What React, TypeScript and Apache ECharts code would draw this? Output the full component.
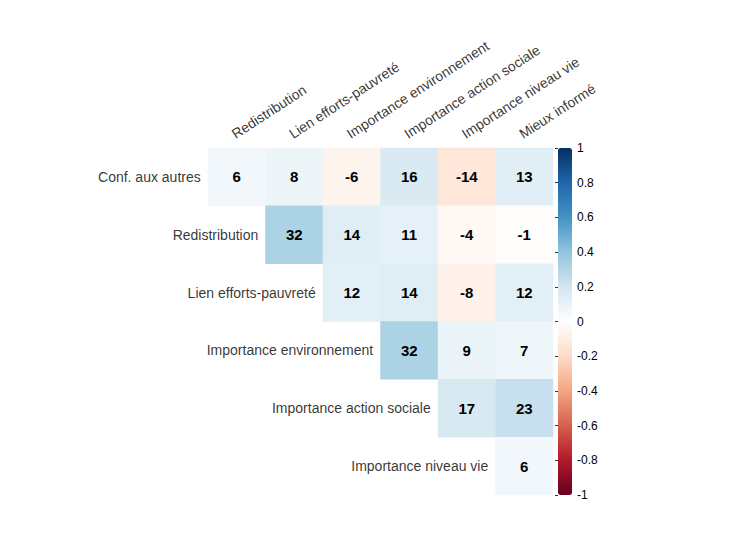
import { useEffect, useRef } from 'react';
import * as echarts from 'echarts';

const rowLabels = ['Conf. aux autres', 'Redistribution', 'Lien efforts-pauvreté', 'Importance environnement', 'Importance action sociale', 'Importance niveau vie'];
const colLabels = ['Redistribution', 'Lien efforts-pauvreté', 'Importance environnement', 'Importance action sociale', 'Importance niveau vie', 'Mieux informé'];
// upper triangle, row i starts at column i (values x100)
const corrRows = [
  [6, 8, -6, 16, -14, 13],
  [32, 14, 11, -4, -1],
  [12, 14, -8, 12],
  [32, 9, 7],
  [17, 23],
  [6],
];
const scaleTicks = [-1, -0.8, -0.6, -0.4, -0.2, 0, 0.2, 0.4, 0.6, 0.8, 1];

const FONT = 'Liberation Sans, Arial, sans-serif';

const App = () => {
  const chartDom = useRef<HTMLDivElement | null>(null);

  useEffect(() => {
    if (!chartDom.current) return;
    const chart = echarts.init(chartDom.current, null, { renderer: 'svg' });

    const cells: number[][] = [];
    corrRows.forEach((row, i) => row.forEach((v, k) => cells.push([i + k, i, v / 100])));

    const option = {
      animation: false,
      textStyle: { fontFamily: FONT },
      grid: [
        { left: 200, top: 140, width: 345, height: 347 },
        { left: 550, top: 140, width: 14, height: 347 },
      ],
      xAxis: [
        { type: 'category', data: colLabels, show: false, gridIndex: 0 },
        { type: 'value', show: false, gridIndex: 1 },
      ],
      yAxis: [
        { type: 'category', data: rowLabels, inverse: true, show: false, gridIndex: 0 },
        {
          type: 'value', gridIndex: 1, position: 'right', min: -1, max: 1, interval: 0.2,
          splitLine: { show: false },
          axisLine: { show: false },
          axisTick: { show: true, inside: true, length: 3, lineStyle: { color: '#333' } },
          axisLabel: {
            color: '#000', fontSize: 12, margin: 5,
            formatter: (v: number) => {
              const r = Math.round(v * 10) / 10;
              return scaleTicks.includes(r) ? String(r) : '';
            },
          },
        },
      ],
      visualMap: {
        type: 'continuous', min: -1, max: 1, seriesIndex: 0, calculable: false, padding: 0,
        left: 550, top: 140, itemWidth: 14, itemHeight: 347, text: ['', ''], showLabel: false,
        inRange: {
          color: ['#67001F', '#B2182B', '#D6604D', '#F4A582', '#FDDBC7', '#FFFFFF', '#D1E5F0', '#92C5DE', '#4393C3', '#2166AC', '#053061'],
        },
      },
      series: [
        {
          type: 'heatmap',
          data: cells,
          label: {
            show: true, color: '#000', fontWeight: 'bold', fontSize: 15, fontFamily: FONT,
            formatter: (p: any) => String(Math.round(p.value[2] * 100)),
          },
        },
        {
          type: 'scatter', symbolSize: 0, silent: true,
          data: rowLabels.map((_, i) => [i, i]),
          label: {
            show: true, position: 'left', distance: 36, color: '#000', fontSize: 14, fontFamily: FONT,
            formatter: (p: any) => rowLabels[p.dataIndex],
          },
        },
        {
          type: 'scatter', symbolSize: 0, silent: true,
          data: colLabels.map((_, j) => [j, 0]),
          label: {
            show: true, position: 'top', distance: 36, rotate: 33, align: 'left', verticalAlign: 'bottom',
            color: '#000', fontSize: 14, fontFamily: FONT,
            formatter: (p: any) => colLabels[p.dataIndex],
          },
        },
      ],
    };

    chart.setOption(option);
    return () => chart.dispose();
  }, []);

  return <div ref={chartDom} style={{ width: 739, height: 534 }} />;
};

export default App;
